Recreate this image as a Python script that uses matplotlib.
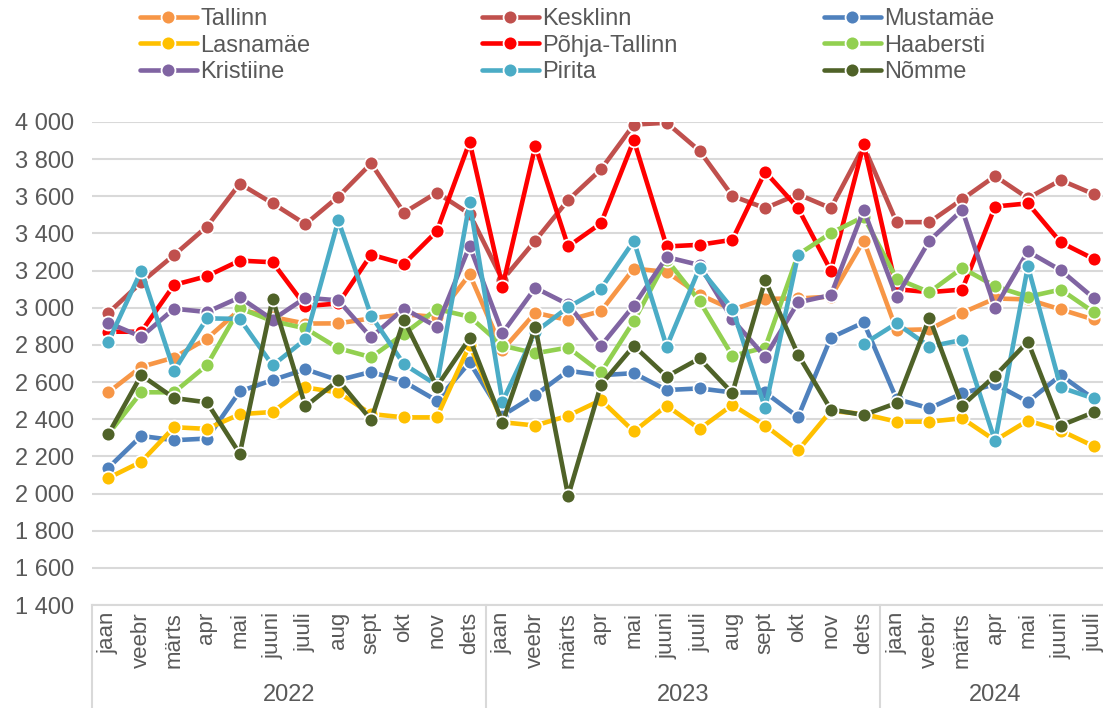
import matplotlib
matplotlib.use("Agg")
import matplotlib.pyplot as plt
import numpy as np

plt.rcParams["font.family"] = ["Liberation Sans", "DejaVu Sans"]

MONTHS = ["jaan", "veebr", "märts", "apr", "mai", "juuni", "juuli", "aug", "sept", "okt", "nov", "dets"]
YEARS = ["2022", "2023", "2024"]
MONTHS_PER_YEAR = [12, 12, 7]

NAMES = ["Tallinn", "Kesklinn", "Mustamäe", "Lasnamäe", "Põhja-Tallinn",
         "Haabersti", "Kristiine", "Pirita", "Nõmme"]
COLORS = ["#F79646", "#C0504D", "#4F81BD", "#FFC000", "#FF0000",
          "#92D050", "#8064A2", "#4BACC6", "#4F6228"]

tallinn = [2545, 2682, 2732, 2834, 2990, 2950, 2915, 2916, 2943, 2965, 2950, 3180,
           2773, 2973, 2934, 2982, 3211, 3193, 3071, 2990, 3048, 3050, 3060, 3362,
           2880, 2884, 2973, 3050, 3045, 2991, 2937]
kesklinn = [2973, 3137, 3284, 3437, 3668, 3562, 3450, 3598, 3777, 3512, 3620, 3505,
            3150, 3362, 3580, 3745, 3986, 3996, 3845, 3602, 3536, 3611, 3536, 3870,
            3461, 3461, 3584, 3709, 3590, 3687, 3612]
mustamae = [2139, 2310, 2287, 2296, 2550, 2611, 2669, 2610, 2655, 2602, 2500, 2706,
            2420, 2530, 2661, 2637, 2648, 2557, 2566, 2544, 2544, 2412, 2839, 2921,
            2509, 2459, 2539, 2589, 2494, 2637, 2510]
lasnamae = [2084, 2171, 2357, 2348, 2427, 2439, 2571, 2544, 2428, 2410, 2410, 2800,
            2384, 2366, 2419, 2503, 2334, 2473, 2348, 2477, 2366, 2232, 2445, 2428,
            2387, 2387, 2405, 2286, 2393, 2339, 2255]
pohja = [2871, 2871, 3123, 3170, 3254, 3245, 3009, 3023, 3286, 3236, 3412, 3893,
         3114, 3871, 3330, 3455, 3902, 3330, 3339, 3366, 3732, 3536, 3200, 3879,
         3100, 3084, 3098, 3545, 3562, 3352, 3263]
haabersti = [2321, 2545, 2545, 2691, 2998, 2928, 2889, 2782, 2734, 2860, 2993, 2952,
             2796, 2755, 2786, 2652, 2928, 3259, 3036, 2741, 2786, 3286, 3402, 3490,
             3157, 3084, 3214, 3116, 3059, 3098, 2977]
kristiine = [2919, 2844, 2995, 2977, 3056, 2936, 3054, 3040, 2840, 2996, 2898, 3332,
             2864, 3107, 3018, 2795, 3012, 3273, 3230, 2937, 2736, 3029, 3068, 3527,
             3059, 3361, 3527, 3000, 3303, 3202, 3053]
pirita = [2818, 3200, 2661, 2943, 2940, 2690, 2830, 3470, 2957, 2696, 2584, 3568,
          2495, 2870, 3003, 3103, 3360, 2791, 3214, 2995, 2459, 3284, np.nan, 2805,
          2916, 2791, 2827, 2282, 3223, 2571, 2512]
nomme = [2321, 2637, 2514, 2491, 2214, 3048, 2469, 2610, 2396, 2934, 2575, 2836,
         2382, 2896, 1987, 2586, 2795, 2630, 2727, 2541, 3148, 2748, 2452, 2423,
         2487, 2946, 2473, 2634, 2818, 2366, 2437]
SERIES = [tallinn, kesklinn, mustamae, lasnamae, pohja, haabersti, kristiine, pirita, nomme]

TXT = "#595959"
GRID = "#D9D9D9"

month_labels = []
for n in MONTHS_PER_YEAR:
    month_labels += MONTHS[:n]
x = np.arange(len(month_labels))

fig = plt.figure(figsize=(11.03, 7.08), dpi=100)
ax = fig.add_axes([92 / 1103, 103 / 708, 1018 / 1103, 483 / 708])

handles = []
for name, vals, col in zip(NAMES, SERIES, COLORS):
    h, = ax.plot(x, vals, color=col, lw=3.3, marker="o", ms=10, mfc=col,
                 mec="white", mew=1.3, label=name, solid_capstyle="round")
    handles.append(h)

ax.set_xlim(-0.5, len(x) - 0.5)
ax.set_ylim(1400, 4000)
yt = np.arange(1400, 4001, 200)
ax.set_yticks(yt)
ax.set_yticklabels([f"{v:,}".replace(",", " ") for v in yt], fontsize=17, color=TXT)
ax.yaxis.grid(True, color=GRID, lw=1.5)
ax.set_axisbelow(True)
ax.tick_params(axis="y", length=0, pad=13)
ax.set_xticks(x)
ax.set_xticklabels(month_labels, rotation=90, fontsize=16, color=TXT, va="top")
ax.tick_params(axis="x", length=0, pad=5)
for sp in ["top", "right", "left"]:
    ax.spines[sp].set_visible(False)
ax.spines["bottom"].set_color(GRID)
ax.spines["bottom"].set_linewidth(1.5)

# year level of the category axis
trans = ax.get_xaxis_transform()
bounds = np.concatenate([[0], np.cumsum(MONTHS_PER_YEAR)]) - 0.5
for b in bounds:
    ax.plot([b, b], [0, -0.215], color=GRID, lw=1.5, transform=trans, clip_on=False)
for i, yr in enumerate(YEARS):
    ax.text((bounds[i] + bounds[i + 1]) / 2, -0.186, yr, transform=trans,
            ha="center", va="center", fontsize=17, color=TXT)

# legend: three columns, filled row by row
col_x = [140, 482, 824]
for c in range(3):
    hs = [handles[c + 3 * r] for r in range(3)]
    fig.legend(handles=hs, labels=[h.get_label() for h in hs], loc="upper left",
               bbox_to_anchor=(col_x[c] / 1103, 1 - 8 / 708), frameon=False,
               fontsize=17, handlelength=2.4, handletextpad=0.15, borderpad=0,
               borderaxespad=0, labelspacing=0.2, labelcolor=TXT)

fig.savefig("out.png", dpi=100)
